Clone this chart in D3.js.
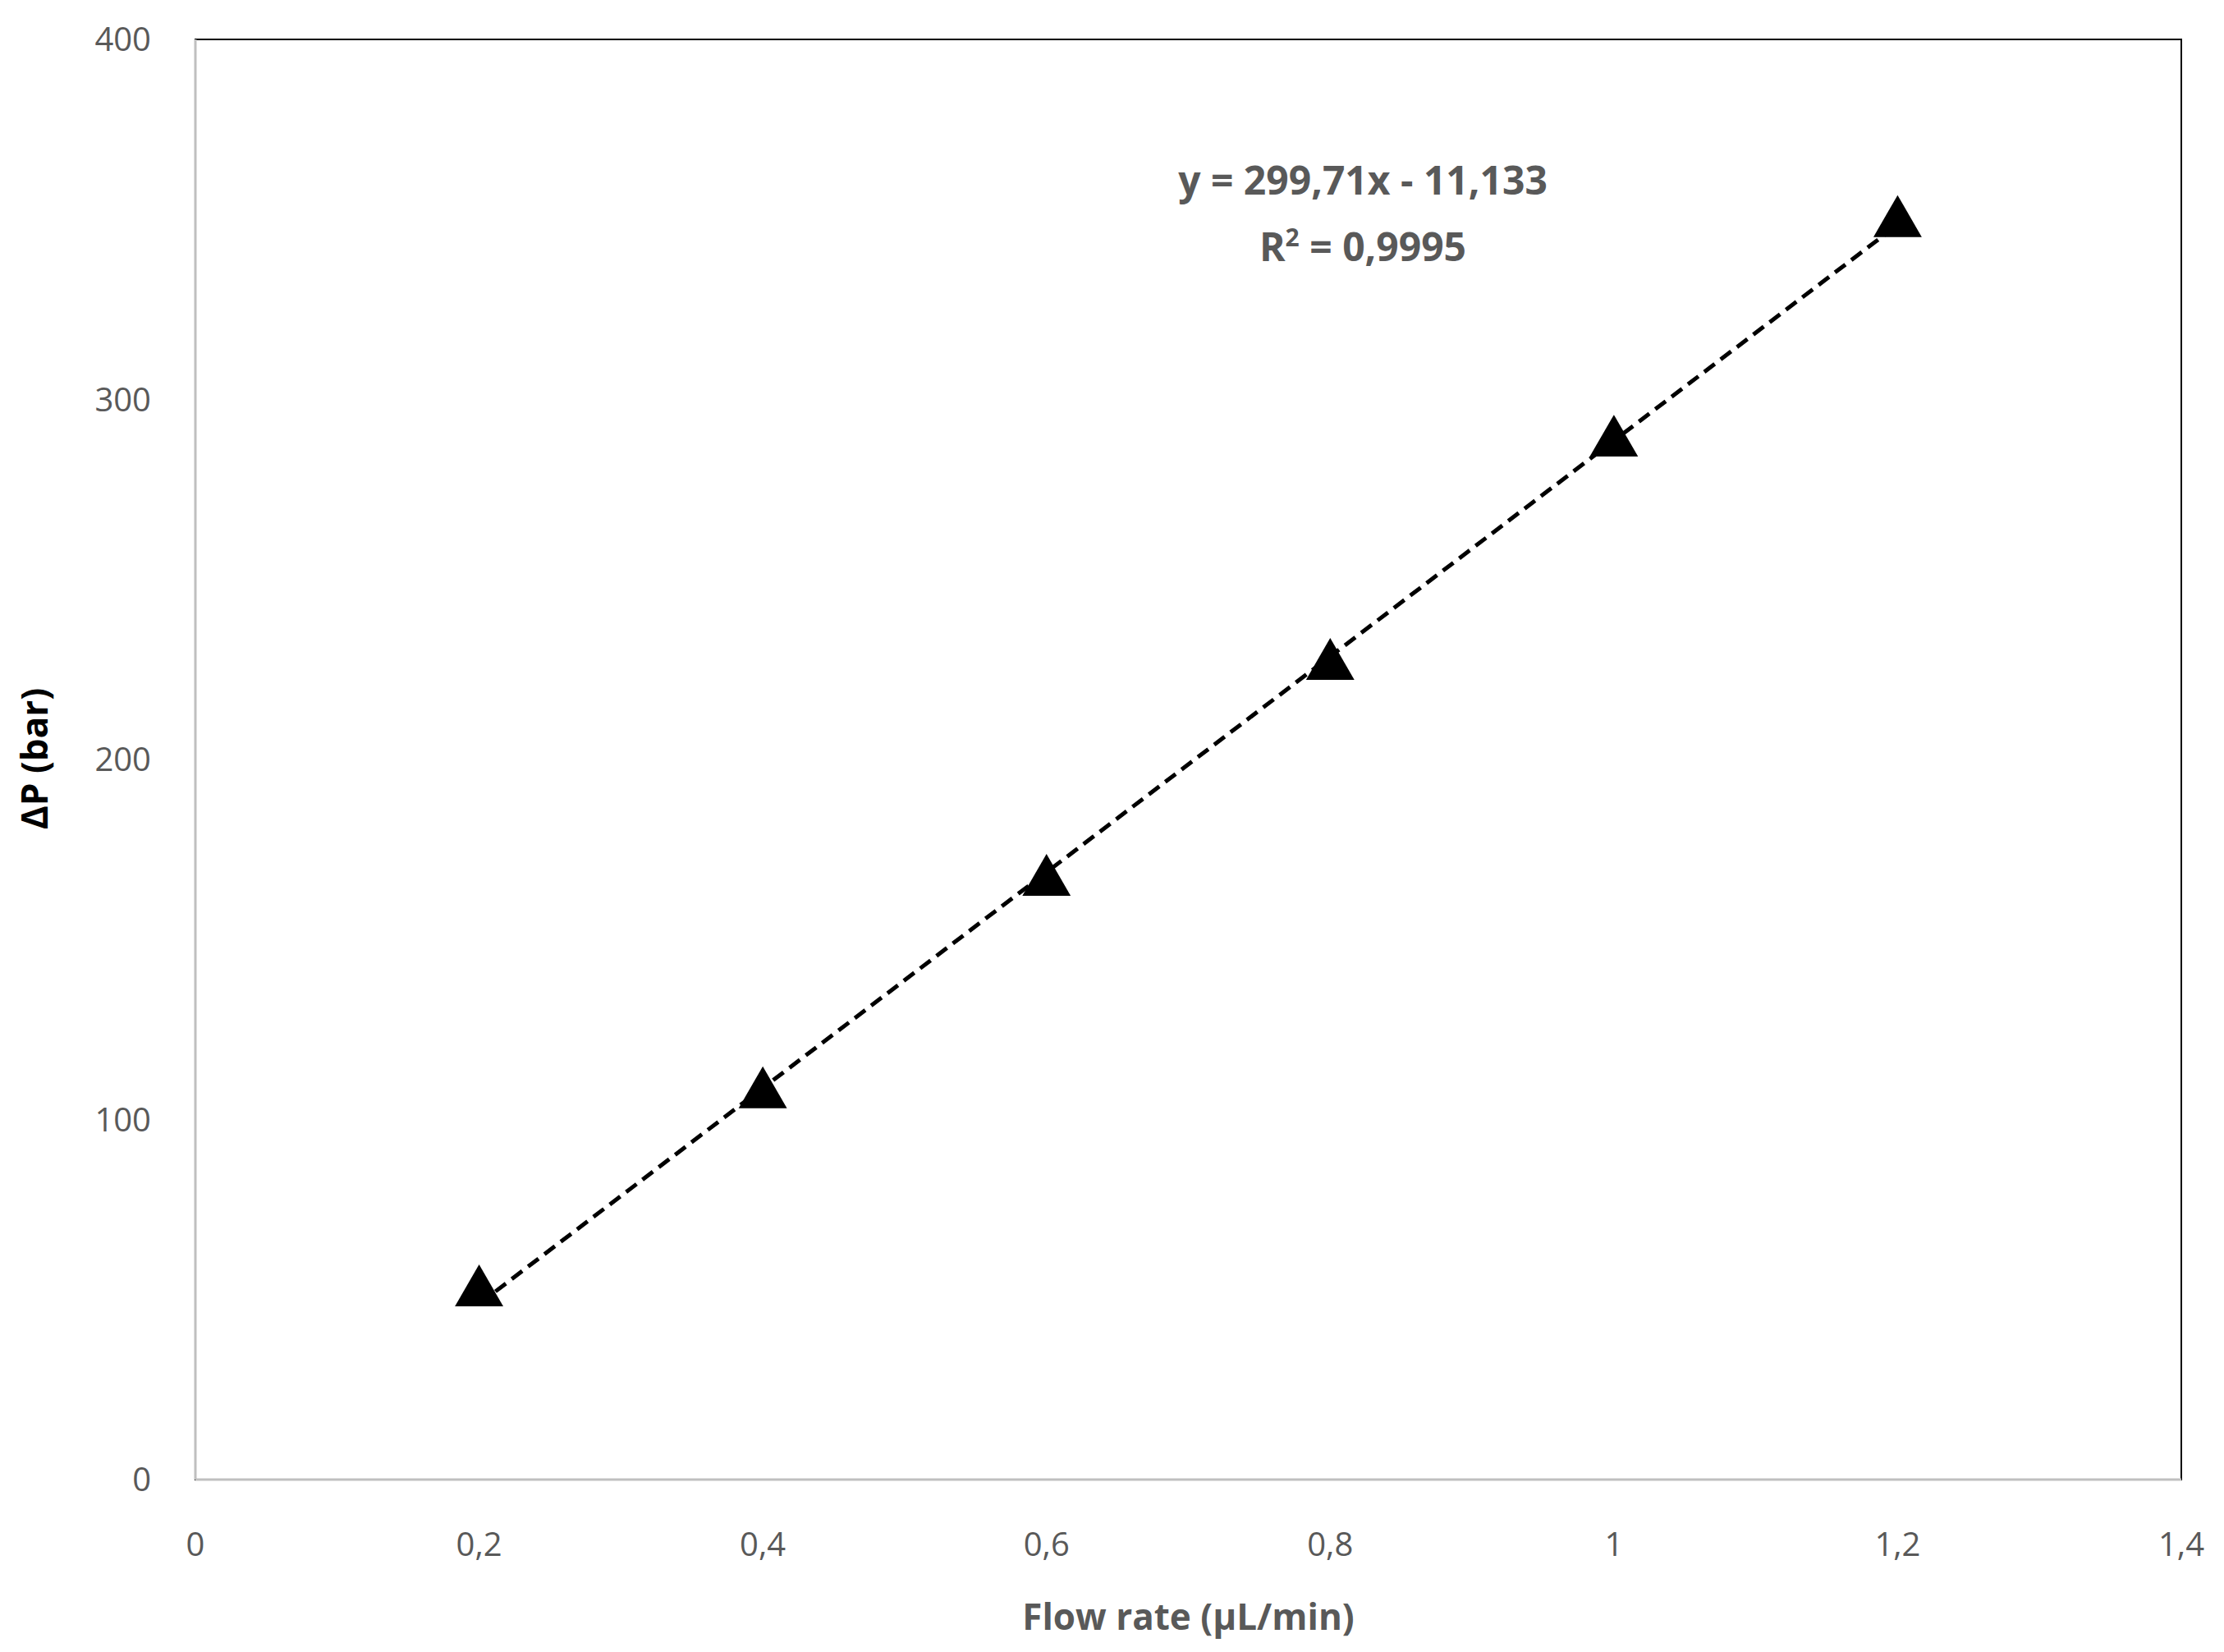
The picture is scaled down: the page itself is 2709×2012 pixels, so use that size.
<!DOCTYPE html>
<html><head><meta charset="utf-8">
<script src="https://cdn.jsdelivr.net/npm/d3@7"></script>
<style>body{margin:0;background:#fff}</style>
</head><body>
<svg id="chart" width="2709" height="2012"></svg>
<script>
const flowRates = [0.2, 0.4, 0.6, 0.8, 1.0, 1.2]
const pressures = [52, 107, 166, 226, 288, 349]
const trendX = [0.2, 1.2]
const trendY = [48.8, 348.5]
const xTicks = [0, 0.2, 0.4, 0.6, 0.8, 1, 1.2, 1.4]
const yTicks = [0, 100, 200, 300, 400]

const plotL = 238, plotR = 2657, plotT = 48, plotB = 1802
const svg = d3.select("#chart")
const x = d3.scaleLinear().domain([0, 1.4]).range([plotL, plotR])
const y = d3.scaleLinear().domain([0, 400]).range([plotB, plotT])
const fmt = d => String(d).replace(".", ",")
const font = "'Open Sans', 'Noto Sans', sans-serif"

svg.append("rect").attr("x", plotL).attr("y", plotT)
  .attr("width", plotR - plotL).attr("height", plotB - plotT)
  .attr("fill", "none").attr("stroke", "#000").attr("stroke-width", 2)

// axis lines in gray over the frame bottom/left
svg.append("line").attr("x1", plotL).attr("x2", plotR).attr("y1", plotB).attr("y2", plotB)
  .attr("stroke", "#bfbfbf").attr("stroke-width", 3)
svg.append("line").attr("x1", plotL).attr("x2", plotL).attr("y1", plotT).attr("y2", plotB)
  .attr("stroke", "#bfbfbf").attr("stroke-width", 3)

svg.selectAll(".xt").data(xTicks).join("text")
  .attr("x", d => x(d)).attr("y", 1895).attr("text-anchor", "middle")
  .attr("font-family", font).attr("font-size", 40).attr("fill", "#595959")
  .text(fmt)
svg.selectAll(".yt").data(yTicks).join("text")
  .attr("x", 184).attr("y", d => y(d) + 14).attr("text-anchor", "end")
  .attr("font-family", font).attr("font-size", 40).attr("fill", "#595959")
  .text(d => d)

svg.append("text").attr("x", (plotL + plotR) / 2).attr("y", 1985)
  .attr("text-anchor", "middle").attr("font-family", font).attr("font-size", 44)
  .attr("font-weight", "bold").attr("fill", "#595959").text("Flow rate (µL/min)")
svg.append("text").attr("transform", "translate(58,924) rotate(-90)")
  .attr("text-anchor", "middle").attr("font-family", font).attr("font-size", 44)
  .attr("font-weight", "bold").attr("fill", "#000").text("ΔP (bar)")

const line = d3.line().x(d => x(d[0])).y(d => y(d[1]))
svg.append("path").datum(d3.zip(trendX, trendY)).attr("d", line)
  .attr("fill", "none").attr("stroke", "#000").attr("stroke-width", 5)
  .attr("stroke-dasharray", "16,9")

const tri = d3.symbol().type(d3.symbolTriangle).size(1500)
svg.selectAll(".pt").data(d3.zip(flowRates, pressures)).join("path")
  .attr("transform", d => `translate(${x(d[0])},${y(d[1])})`)
  .attr("d", tri).attr("fill", "#000")

const eq = svg.append("g").attr("font-family", font).attr("font-size", 48)
  .attr("font-weight", "bold").attr("fill", "#595959").attr("text-anchor", "middle")
eq.append("text").attr("x", 1660).attr("y", 237).text("y = 299,71x - 11,133")
const r = eq.append("text").attr("x", 1660).attr("y", 318)
r.append("tspan").text("R")
r.append("tspan").attr("dy", -18).attr("font-size", 30).text("2")
r.append("tspan").attr("dy", 18).text(" = 0,9995")
</script>
</body></html>
